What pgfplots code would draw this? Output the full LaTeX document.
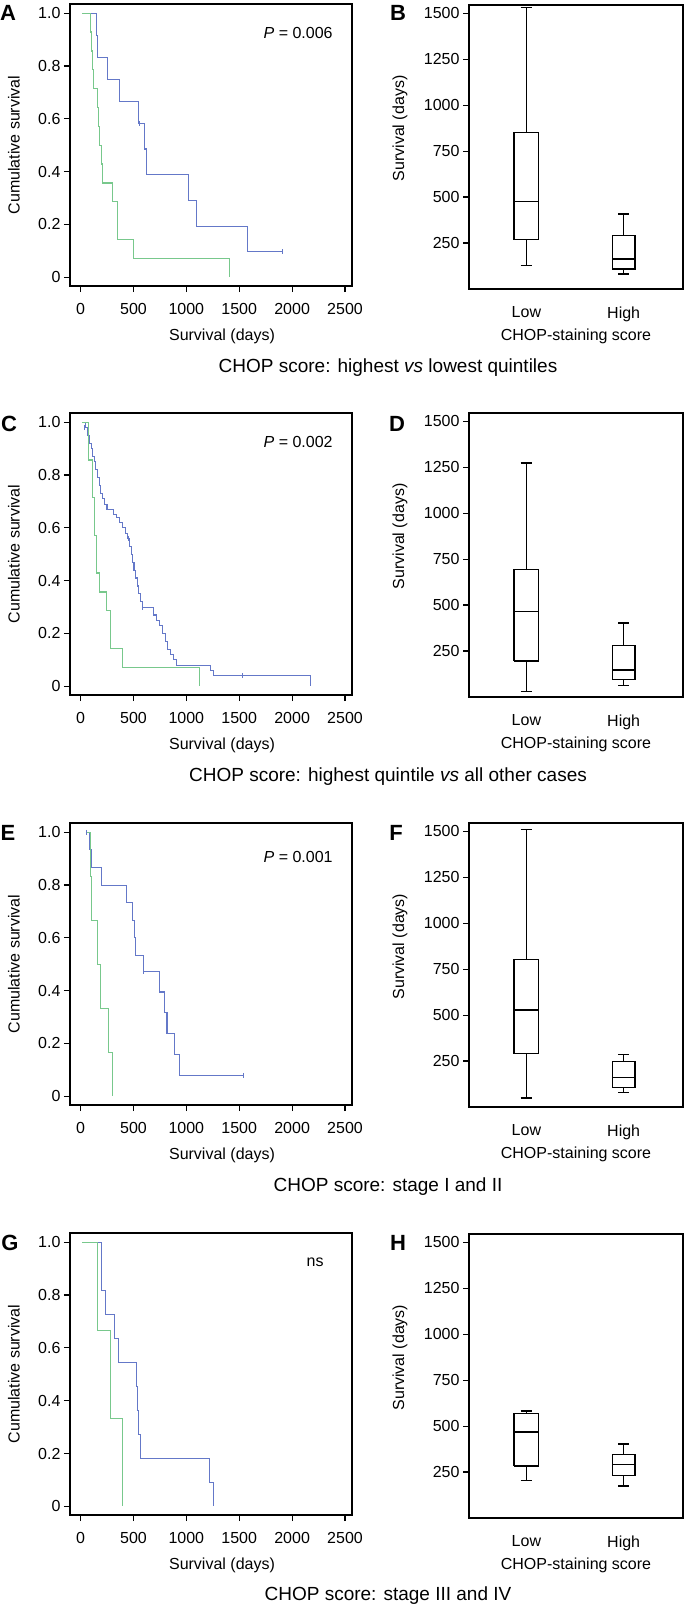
\documentclass[border=0pt]{standalone}
\usepackage{fontspec}
\setmainfont{Liberation Sans}
\usepackage{pgfplots}
\pgfplotsset{compat=1.18}
\definecolor{kmblue}{RGB}{100,120,200}
\definecolor{kmgreen}{RGB}{120,200,140}
\newcommand{\fs}[1]{\fontsize{#1}{#1}\selectfont}
\pgfplotsset{
  panel/.style={scale only axis, axis line style={line width=1.6pt},
    every tick/.style={black, line width=1.2pt}, major tick length=6pt,
    tick align=outside, xtick pos=left, ytick pos=left,
    ticklabel style={font=\fs{16}}, label style={font=\fs{16}},
    /pgf/number format/assume math mode=true, /pgf/number format/1000 sep={},
    scaled ticks=false, xticklabel style={yshift=-8pt}},
  km/.style={panel, width=282pt, height=282pt, xmin=-100, xmax=2566,
    ymin=-0.033, ymax=1.035, xtick={0,500,1000,1500,2000,2500},
    ytick={0,0.2,0.4,0.6,0.8,1}, yticklabels={0,0.2,0.4,0.6,0.8,1.0},
    xlabel={Survival (days)}, ylabel={Cumulative survival},
    xlabel style={at={(axis description cs:0.539,0)}, anchor=center, yshift=-50pt},
    ylabel style={at={(axis description cs:-0.199,0.5)}, anchor=center}},
  bx/.style={panel, width=214pt, height=284pt, xmin=0.41, xmax=2.61, ymin=0, ymax=1545,
    xtick={1,2}, xticklabels={Low,High}, xtick style={draw opacity=0},
    ytick={250,500,750,1000,1250,1500},
    xlabel={CHOP-staining score}, ylabel={Survival (days)},
    xlabel style={at={(axis description cs:0.5,0)}, anchor=center, yshift=-47pt},
    ylabel style={at={(axis description cs:-0.322,0.565)}, anchor=center},
    unbounded coords=jump},
  bp/.style={black, line width=1.5pt, mark=none},
  blu/.style={kmblue, line width=1.1pt, const plot, mark=none},
  grn/.style={kmgreen, line width=1.1pt, const plot, mark=none},
  cens/.style={kmblue, only marks, mark=|, mark size=2.5pt, line width=0.8pt},
}
\begin{document}
\begin{tikzpicture}
\path[use as bounding box] (0,0) rectangle (684pt,-1605pt);

% ---------------- Row 1 ----------------
\begin{axis}[km, at={(70pt,-4pt)}, anchor=north west]
\addplot[blu] coordinates {(15,1) (151,0.917) (158,0.833) (258,0.75) (371,0.667) (550,0.583) (604,0.486) (623,0.389) (1022,0.292) (1094,0.194) (1579,0.097) (1912,0.097)};
\addplot[grn] coordinates {(15,1) (94,0.929) (100,0.857) (110,0.786) (126,0.714) (157,0.643) (168,0.571) (179,0.5) (198,0.429) (211,0.357) (305,0.286) (352,0.143) (503,0.071) (1409,0)};
\addplot[cens] coordinates {(560,0.583) (1912,0.097)};
\node[font=\fs{16}] at (axis description cs:0.809,0.897) {\textit{P} = 0.006};
\end{axis}
\begin{axis}[bx, at={(469pt,-5pt)}, anchor=north west]
\addplot[bp] coordinates {(0.875,268) (1.125,268) (1.125,852) (0.875,852) (0.875,268) (1,nan) (0.875,475) (1.125,475) (1,nan) (1,268) (1,129) (1,nan) (0.94,129) (1.06,129) (1,nan) (1,852) (1,1532) (1,nan) (0.94,1532) (1.06,1532)};
\addplot[bp] coordinates {(1.885,109) (2.115,109) (2.115,291) (1.885,291) (1.885,109) (2,nan) (1.885,163) (2.115,163) (2,nan) (2,109) (2,82) (2,nan) (1.945,82) (2.055,82) (2,nan) (2,291) (2,409) (2,nan) (1.945,409) (2.055,409)};
\end{axis}
\node[font=\bfseries\fs{22}] at (8pt,-13pt) {A};
\node[font=\bfseries\fs{22}] at (398pt,-13pt) {B};
\node[font=\fs{19}] at (388pt,-368pt) {CHOP score: highest \textit{vs} lowest quintiles};

% ---------------- Row 2 ----------------
\begin{axis}[km, at={(70pt,-413pt)}, anchor=north west]
\addplot[blu] coordinates {(25,1) (45,0.98) (70,0.95) (85,0.92) (100,0.90) (115,0.87) (130,0.85) (145,0.82) (160,0.79) (175,0.76) (190,0.73) (205,0.71) (225,0.69) (250,0.67) (310,0.65) (340,0.64) (370,0.62) (400,0.60) (425,0.58) (445,0.56) (460,0.53) (480,0.50) (495,0.47) (505,0.44) (520,0.41) (535,0.38) (550,0.35) (565,0.32) (585,0.30) (690,0.27) (720,0.25) (750,0.23) (775,0.20) (800,0.17) (825,0.14) (850,0.12) (880,0.10) (910,0.08) (1226,0.06) (1260,0.04) (2177,0)};
\addplot[grn] coordinates {(13,1) (79,0.857) (111,0.714) (133,0.571) (149,0.429) (180,0.357) (244,0.286) (282,0.143) (396,0.071) (1125,0)};
\addplot[cens] coordinates {(40,0.98) (450,0.56) (580,0.30) (1527,0.04)};
\node[font=\fs{16}] at (axis description cs:0.809,0.897) {\textit{P} = 0.002};
\end{axis}
\begin{axis}[bx, at={(469pt,-413pt)}, anchor=north west]
\addplot[bp] coordinates {(0.875,196) (1.125,196) (1.125,694) (0.875,694) (0.875,196) (1,nan) (0.875,466) (1.125,466) (1,nan) (1,196) (1,30) (1,nan) (0.94,30) (1.06,30) (1,nan) (1,694) (1,1273) (1,nan) (0.94,1273) (1.06,1273)};
\addplot[bp] coordinates {(1.885,96) (2.115,96) (2.115,279) (1.885,279) (1.885,96) (2,nan) (1.885,147) (2.115,147) (2,nan) (2,96) (2,62) (2,nan) (1.945,62) (2.055,62) (2,nan) (2,279) (2,403) (2,nan) (1.945,403) (2.055,403)};
\end{axis}
\node[font=\bfseries\fs{22}] at (9pt,-424pt) {C};
\node[font=\bfseries\fs{22}] at (397pt,-424pt) {D};
\node[font=\fs{19}] at (388pt,-777pt) {CHOP score: highest quintile \textit{vs} all other cases};

% ---------------- Row 3 ----------------
\begin{axis}[km, at={(70pt,-823pt)}, anchor=north west]
\addplot[blu] coordinates {(57,1) (88,0.933) (100,0.867) (195,0.8) (434,0.733) (487,0.667) (510,0.6) (516,0.533) (591,0.474) (742,0.395) (792,0.316) (817,0.237) (887,0.158) (934,0.079) (1541,0.079)};
\addplot[grn] coordinates {(50,1) (94,0.833) (105,0.667) (163,0.5) (189,0.333) (267,0.167) (299,0)};
\addplot[cens] coordinates {(57,1) (591,0.474) (1541,0.079)};
\node[font=\fs{16}] at (axis description cs:0.809,0.88) {\textit{P} = 0.001};
\end{axis}
\begin{axis}[bx, at={(469pt,-823pt)}, anchor=north west]
\addplot[bp] coordinates {(0.875,291) (1.125,291) (1.125,802) (0.875,802) (0.875,291) (1,nan) (0.875,529) (1.125,529) (1,nan) (1,291) (1,50) (1,nan) (0.94,50) (1.06,50) (1,nan) (1,802) (1,1510) (1,nan) (0.94,1510) (1.06,1510)};
\addplot[bp] coordinates {(1.885,107) (2.115,107) (2.115,247) (1.885,247) (1.885,107) (2,nan) (1.885,161) (2.115,161) (2,nan) (2,107) (2,80) (2,nan) (1.945,80) (2.055,80) (2,nan) (2,247) (2,287) (2,nan) (1.945,287) (2.055,287)};
\end{axis}
\node[font=\bfseries\fs{22}] at (8pt,-833pt) {E};
\node[font=\bfseries\fs{22}] at (396pt,-833pt) {F};
\node[font=\fs{19}] at (388pt,-1187pt) {CHOP score: stage I and II};

% ---------------- Row 4 ----------------
\begin{axis}[km, at={(70pt,-1233pt)}, anchor=north west]
\addplot[blu] coordinates {(15,1) (195,0.818) (236,0.727) (321,0.636) (362,0.545) (528,0.455) (538,0.364) (550,0.273) (566,0.182) (1217,0.091) (1258,0)};
\addplot[grn] coordinates {(15,1) (157,0.667) (283,0.333) (399,0)};
\node[font=\fs{16}] at (axis description cs:0.869,0.898) {ns};
\end{axis}
\begin{axis}[bx, at={(469pt,-1234pt)}, anchor=north west]
\addplot[bp] coordinates {(0.875,282) (1.125,282) (1.125,569) (0.875,569) (0.875,282) (1,nan) (0.875,468) (1.125,468) (1,nan) (1,282) (1,205) (1,nan) (0.94,205) (1.06,205) (1,nan) (1,569) (1,581) (1,nan) (0.94,581) (1.06,581)};
\addplot[bp] coordinates {(1.885,232) (2.115,232) (2.115,345) (1.885,345) (1.885,232) (2,nan) (1.885,291) (2.115,291) (2,nan) (2,232) (2,175) (2,nan) (1.945,175) (2.055,175) (2,nan) (2,345) (2,402) (2,nan) (1.945,402) (2.055,402)};
\end{axis}
\node[font=\bfseries\fs{22}] at (10pt,-1243pt) {G};
\node[font=\bfseries\fs{22}] at (398pt,-1243pt) {H};
\node[font=\fs{19}] at (388pt,-1596pt) {CHOP score: stage III and IV};
\end{tikzpicture}
\end{document}
